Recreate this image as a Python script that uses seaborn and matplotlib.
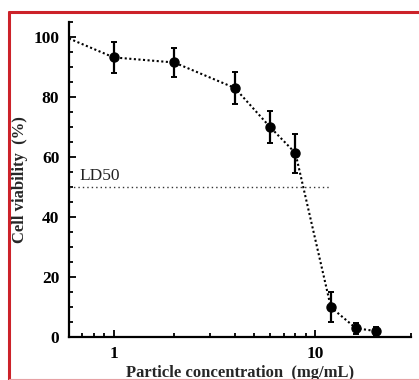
import numpy as np
import pandas as pd
import matplotlib
matplotlib.use("Agg")
import matplotlib.pyplot as plt
import seaborn as sns
from matplotlib.ticker import LogLocator, MultipleLocator, FixedLocator, FixedFormatter
from matplotlib.lines import Line2D

# data
conc = [1, 2, 4, 6, 8, 12, 16, 20]
viability = [93.1, 91.4, 82.9, 69.8, 61.2, 9.8, 2.8, 1.9]
err = [5.1, 4.7, 5.3, 5.4, 6.5, 5.0, 1.8, 1.4]
# trend line enters from the left edge of the axis
lead_conc = [0.6]
lead_viab = [99.4]
ld50_value = 50
ld50_span = [0.6, 12]

sns.set_style("ticks")
plt.rcParams['font.family'] = ['Liberation Serif', 'DejaVu Serif']

fig = plt.figure(figsize=(4.19, 3.80), dpi=100)
ax = fig.add_axes([69 / 419, 43.3 / 380, 342 / 419, 315 / 380])

df = pd.DataFrame({'conc': lead_conc + conc, 'viab': lead_viab + viability})
sns.lineplot(data=df, x='conc', y='viab', ax=ax, color='black',
             linestyle=(0, (1, 1.2)), linewidth=1.5)
ax.errorbar(conc, viability, yerr=err, fmt='o', color='black', ms=6.5,
            elinewidth=1.6, capsize=2.5, capthick=1.4, zorder=5)
ax.plot(ld50_span, [ld50_value, ld50_value], color='#333333',
        linestyle=(0, (1, 2.2)), linewidth=1.0)
ax.text(0.675, 52.3, 'LD50', fontsize=12.5, color='#222222')

ax.set_xscale('log')
ax.set_xlim(0.6, 30)
ax.set_ylim(0, 105)
ax.xaxis.set_major_locator(FixedLocator([1, 10]))
ax.xaxis.set_major_formatter(FixedFormatter(['1', '10']))
ax.xaxis.set_minor_locator(LogLocator(base=10, subs=np.arange(2, 10)))
ax.yaxis.set_major_locator(MultipleLocator(20))
ax.yaxis.set_minor_locator(MultipleLocator(5))

ax.tick_params(which='both', direction='in', width=1.3, colors='black')
ax.tick_params(which='major', length=5, labelsize=12.5, pad=7)
ax.tick_params(which='minor', length=3)
for lab in ax.get_xticklabels() + ax.get_yticklabels():
    lab.set_fontweight('bold')

for s in ['top', 'right']:
    ax.spines[s].set_visible(False)
for s in ['left', 'bottom']:
    ax.spines[s].set_linewidth(1.6)
    ax.spines[s].set_color('black')

ax.set_xlabel('Particle concentration  (mg/mL)', fontsize=12,
              fontweight='bold', labelpad=2)
ax.set_ylabel('Cell viability  (%)', fontsize=12, fontweight='bold',
              labelpad=4)

# red frame of the source figure
fig.add_artist(Line2D([9 / 419, 9 / 419], [0, 1 - 11.5 / 380],
                      transform=fig.transFigure, color='#cc2229', lw=2.2))
fig.add_artist(Line2D([9 / 419, 1], [1 - 11.5 / 380, 1 - 11.5 / 380],
                      transform=fig.transFigure, color='#cc2229', lw=2.2))
fig.add_artist(Line2D([9 / 419, 1], [0.6 / 380, 0.6 / 380],
                      transform=fig.transFigure, color='#e8a0a4', lw=0.8))

fig.savefig('out.png', dpi=100)
plt.close(fig)
